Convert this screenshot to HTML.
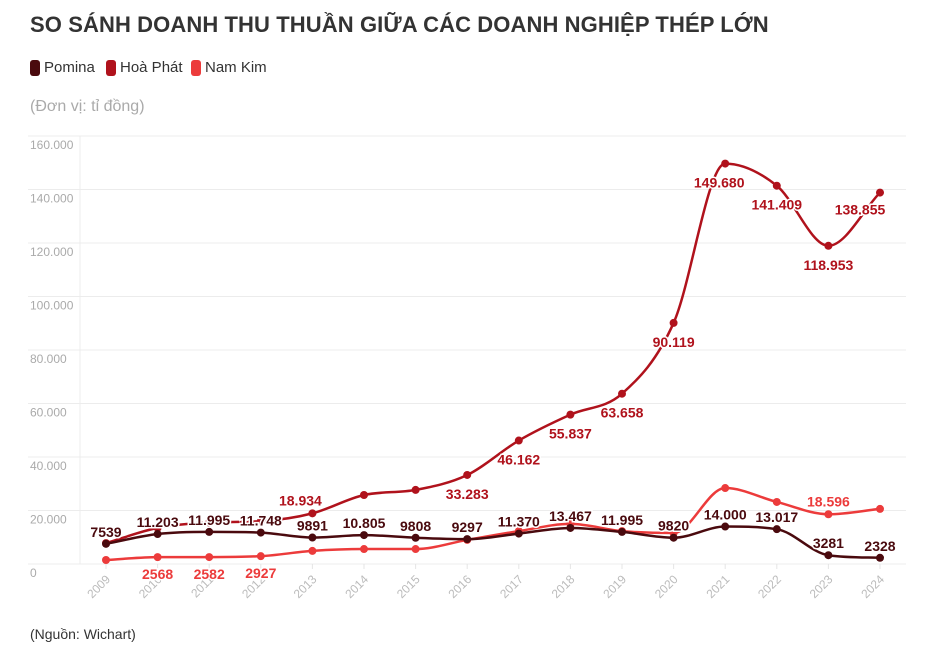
<!DOCTYPE html>
<html><head><meta charset="utf-8">
<style>
body{margin:0;background:#fff;width:938px;height:657px;overflow:hidden;font-family:"Liberation Sans",sans-serif;}
#title{position:absolute;left:30px;top:12px;font-size:22px;font-weight:bold;color:#333;letter-spacing:0.1px;white-space:nowrap;}
.leg{position:absolute;top:59px;font-size:15px;color:#333;display:flex;align-items:center;}
.sw{display:inline-block;width:10px;height:16px;border-radius:3px;margin-right:4px;}
#unit{position:absolute;left:30px;top:98px;font-size:16px;color:#aaa;}
#src{position:absolute;left:30px;top:626px;font-size:14px;color:#333;}
svg{position:absolute;left:0;top:0;}
</style></head><body>
<div id="title">SO SÁNH DOANH THU THUẦN GIỮA CÁC DOANH NGHIỆP THÉP LỚN</div>
<div class="leg" style="left:30px"><span class="sw" style="background:#4a0a0e"></span>Pomina</div>
<div class="leg" style="left:106px"><span class="sw" style="background:#b0121c"></span>Hoà Phát</div>
<div class="leg" style="left:191px"><span class="sw" style="background:#ec3b3b"></span>Nam Kim</div>
<div id="unit">(Đơn vị: tỉ đồng)</div>
<div id="src">(Nguồn: Wichart)</div>
<svg id="chart" width="938" height="657"></svg>
<script>
const years=[2009,2010,2011,2012,2013,2014,2015,2016,2017,2018,2019,2020,2021,2022,2023,2024];
const yTicks=[0,20000,40000,60000,80000,100000,120000,140000,160000];
const yTickLabels=["0","20.000","40.000","60.000","80.000","100.000","120.000","140.000","160.000"];
const pomina=[7539,11203,11995,11748,9891,10805,9808,9297,11370,13467,11995,9820,14000,13017,3281,2328];
const pominaLabels=["7539","11.203","11.995","11.748","9891","10.805","9808","9297","11.370","13.467","11.995","9820","14.000","13.017","3281","2328"];
const hoaPhat=[7800,13500,15500,16000,18934,25800,27700,33283,46162,55837,63658,90119,149680,141409,118953,138855];
const hoaPhatLabels=["","","","","18.934","","","33.283","46.162","55.837","63.658","90.119","149.680","141.409","118.953","138.855"];
const namKim=[1500,2568,2582,2927,4900,5600,5600,9000,12300,15000,12300,11600,28400,23200,18596,20600];
const namKimLabels=["","2568","2582","2927","","","","","","","","","","","18.596",""];

const svg=document.getElementById('chart');const NS='http://www.w3.org/2000/svg';
const x0=106,xStep=51.6,yZero=564,yTop=136,yMax=160000;
const X=i=>x0+i*xStep;
const Y=v=>yZero-(v/yMax)*(yZero-yTop);
function el(t,a){const e=document.createElementNS(NS,t);for(const k in a)e.setAttribute(k,a[k]);svg.appendChild(e);return e;}
yTicks.forEach((t,i)=>{
  const g=el('line',{x1:28,x2:906,y1:Y(t),y2:Y(t),stroke:'#ececec','stroke-width':1});
  
  
  const tx=el('text',{x:30,y:Y(t)+13,'font-size':12,fill:'#aaa'});
  tx.textContent=yTickLabels[i];
  
  
});
const ax=el('line',{x1:80,x2:80,y1:yTop,y2:yZero,stroke:'#ececec'});


years.forEach((yr,i)=>{
  const tk=el('line',{x1:X(i),x2:X(i),y1:yZero,y2:yZero+5,stroke:'#e5e5e5'});
  
  
  const t=el('text',{x:X(i)+5,y:yZero+16,'font-size':12,fill:'#bbb','text-anchor':'end',transform:`rotate(-45 ${X(i)+5} ${yZero+16})`});
  t.textContent=yr;
  
  
});
function pathD(vals){
  const p=vals.map((v,i)=>[X(i),Y(v)]);
  const n=p.length,h=xStep;
  const d=[];for(let i=0;i<n-1;i++)d.push((p[i+1][1]-p[i][1])/h);
  const m=[d[0]];
  for(let i=1;i<n-1;i++){m.push(d[i-1]*d[i]<=0?0:(d[i-1]+d[i])/2);}
  m.push(d[n-2]);
  for(let i=0;i<n-1;i++){
    if(d[i]===0){m[i]=0;m[i+1]=0;continue;}
    const a=m[i]/d[i],b=m[i+1]/d[i],s=a*a+b*b;
    if(s>9){const t=3/Math.sqrt(s);m[i]=t*a*d[i];m[i+1]=t*b*d[i];}
  }
  let s=`M${p[0][0]},${p[0][1]}`;
  for(let i=0;i<n-1;i++){
    s+=` C${p[i][0]+h/3},${p[i][1]+m[i]*h/3} ${p[i+1][0]-h/3},${p[i+1][1]-m[i+1]*h/3} ${p[i+1][0]},${p[i+1][1]}`;
  }
  return s;
}
const series=[
  {name:'nam-kim',vals:namKim,labels:namKimLabels,color:'#ec3b3b',dy:i=>i<14?18:-12},
  {name:'hoa-phat',vals:hoaPhat,labels:hoaPhatLabels,color:'#b0121c',dy:i=>i===4?-12:(i===15?18:20)},
  {name:'pomina',vals:pomina,labels:pominaLabels,color:'#4a0a0e',dy:i=>-11}
];
series.forEach(s=>{
  const p=el('path',{d:pathD(s.vals),fill:'none',stroke:s.color,'stroke-width':2.5});
  
  
  s.vals.forEach((v,i)=>{
    const c=el('circle',{cx:X(i),cy:Y(v),r:4,fill:s.color});
    
    
  });
});
series.forEach(s=>{
  s.labels.forEach((lb,i)=>{
    if(!lb)return;
    let dx=0;
    if(s.name==='hoa-phat'&&i===4)dx=-12;
    if(s.name==='hoa-phat'&&i===12)dx=-6;
    if(s.name==='hoa-phat'&&i>=15)dx=-20;
    const t=el('text',{x:X(i)+dx,y:Y(s.vals[i])+s.dy(i)+4,'font-size':14,'font-weight':'bold',fill:s.color,'text-anchor':'middle',stroke:'#fff','stroke-width':3,'paint-order':'stroke'});
    t.textContent=lb;
    
    
  });
});
</script>
</body></html>
